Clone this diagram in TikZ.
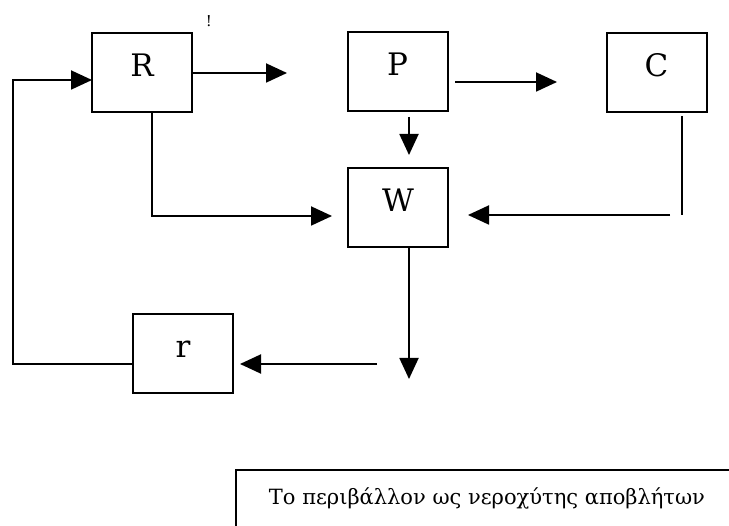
\documentclass[tikz,border=0pt]{standalone}
\usepackage{fontspec}
\setmainfont{DejaVu Serif}
\usetikzlibrary{arrows.meta}
\begin{document}
\begin{tikzpicture}[x=1pt,y=-1pt,
  blk/.style={draw,line width=2pt,minimum width=100pt,minimum height=79pt,inner sep=0pt,text height=8pt,text depth=0pt,font=\fontsize{31}{36}\selectfont},
  conn/.style={line width=1.9pt},
  arr/.style={conn,-{Triangle[length=21pt,width=19pt]}}]
\useasboundingbox (0,0) rectangle (729,526);
\node[blk] (R) at (142,73) {R};
\node[blk] (P) at (397.5,72) {P};
\node[blk] (C) at (656.5,72.5) {C};
\node[blk] (W) at (398,207.5) {W};
\node[blk] (r) at (183,353.5) {r};
\node[inner sep=0pt,font=\fontsize{15}{17}\selectfont] (ex) at (209,21) {!};
\node[inner sep=0pt,font=\fontsize{21}{25}\selectfont] (T) at (487,498) {Το περιβάλλον ως νεροχύτης αποβλήτων};
% coordinates
\coordinate (a1) at (287,73);
\coordinate (b0) at (455,82);
\coordinate (b1) at (557,82);
\coordinate (d0) at (409,117);
\coordinate (d1) at (409,155);
\coordinate (e0) at (152,113);
\coordinate (e1) at (152,216);
\coordinate (e2) at (332,216);
\coordinate (f0) at (682,116);
\coordinate (f1) at (682,215);
\coordinate (g0) at (670,215);
\coordinate (g1) at (468,215);
\coordinate (h0) at (409,247);
\coordinate (h1) at (409,379);
\coordinate (i0) at (377,364);
\coordinate (i1) at (240,364);
\coordinate (j0) at (133,364);
\coordinate (j1) at (13,364);
\coordinate (j2) at (13,80);
\coordinate (j3) at (92,80);
\coordinate (k0) at (236,528);
\coordinate (k1) at (236,470);
\coordinate (k2) at (731,470);
% connectors
\draw[arr] (R.east) -- (a1);
\draw[arr] (b0) -- (b1);
\draw[arr] (d0) -- (d1);
\draw[arr] (e0) -- (e1) -- (e2);
\draw[conn] (f0) -- (f1);
\draw[arr] (g0) -- (g1);
\draw[arr] (h0) -- (h1);
\draw[arr] (i0) -- (i1);
\draw[arr] (j0) -- (j1) -- (j2) -- (j3);
\draw[conn] (k0) -- (k1) -- (k2);
\end{tikzpicture}
\end{document}
